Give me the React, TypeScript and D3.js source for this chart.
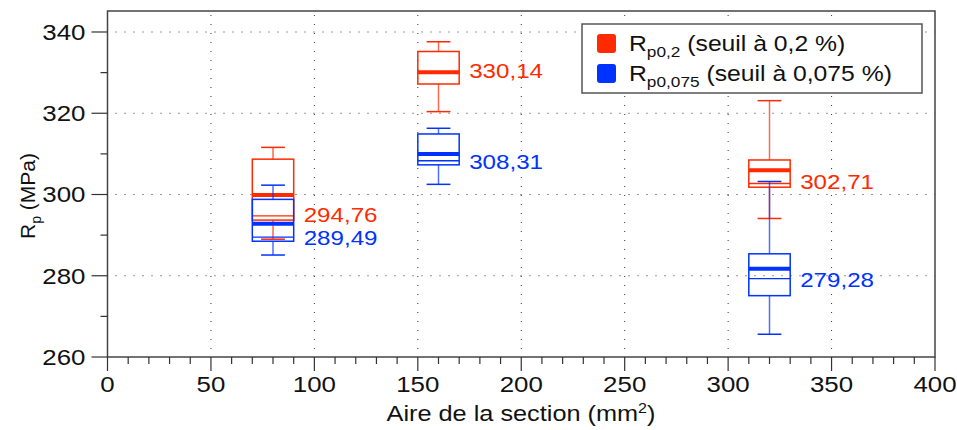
import React from "react";
import * as d3 from "d3";

const W = 957;
const H = 430;

// categories (section area, mm²)
const sections = [80, 160, 320];

// Rp0.2 (red)
const redLow = [289.0, 320.4, 294.1];
const redQ1 = [293.7, 327.2, 301.8];
const redMedian = [299.9, 330.1, 306.0];
const redQ3 = [308.7, 335.2, 308.5];
const redHigh = [311.6, 337.6, 323.1];
const redMean = [294.76, 330.14, 302.71];
const redLabels = ["294,76", "330,14", "302,71"];

// Rp0.075 (blue)
const blueLow = [285.1, 302.5, 265.6];
const blueQ1 = [288.5, 307.3, 275.1];
const blueMedian = [292.8, 310.0, 281.7];
const blueQ3 = [298.8, 314.9, 285.4];
const blueHigh = [302.3, 316.3, 303.2];
const blueMean = [289.49, 308.31, 279.28];
const blueLabels = ["289,49", "308,31", "279,28"];

const xTicks = [0, 50, 100, 150, 200, 250, 300, 350, 400];
const xMinor = d3.range(0, 401, 10);
const yTicks = [260, 280, 300, 320, 340];
const yMinor = [270, 290, 310, 330];

const RED = "#ff2a00";
const BLUE = "#0033ff";
const FONT = "'Liberation Sans', Arial, Helvetica, sans-serif";
const SX = 1.15;

const x = d3.scaleLinear().domain([0, 400]).range([107.5, 935]);
const y = d3.scaleLinear().domain([260, 340]).range([357, 32]);
const yTop = 11;

function T({ x: tx, y: ty, anchor = "start", size = 22.5, fill = "#111", children, baseline = "auto" }: any) {
  return (
    <text
      transform={`translate(${tx},${ty}) scale(${SX},1)`}
      textAnchor={anchor}
      fontSize={size}
      fontFamily={FONT}
      fill={fill}
      dominantBaseline={baseline}
    >
      {children}
    </text>
  );
}

function Box({ cx, low, q1, med, q3, high, mean, color }: any) {
  const bx0 = x(cx - 10);
  const bx1 = x(cx + 10);
  const c0 = x(cx - 5.75);
  const c1 = x(cx + 5.75);
  const xc = x(cx);
  return (
    <g>
      <line x1={xc} x2={xc} y1={y(q3)} y2={y(high)} stroke={color} strokeWidth={1.5} strokeOpacity={0.7} />
      <line x1={xc} x2={xc} y1={y(q1)} y2={y(low)} stroke={color} strokeWidth={1.5} strokeOpacity={0.7} />
      <line x1={c0} x2={c1} y1={y(high)} y2={y(high)} stroke={color} strokeWidth={1.5} />
      <line x1={c0} x2={c1} y1={y(low)} y2={y(low)} stroke={color} strokeWidth={1.5} />
      <rect x={bx0} y={y(q3)} width={bx1 - bx0} height={y(q1) - y(q3)} fill="none" stroke={color} strokeWidth={1.5} />
      <line x1={bx0} x2={bx1} y1={y(mean)} y2={y(mean)} stroke={color} strokeWidth={1.3} />
      <line x1={bx0} x2={bx1} y1={y(med)} y2={y(med)} stroke={color} strokeWidth={4} />
    </g>
  );
}

export default function App() {
  const x0 = x(0);
  const x1 = x(400);
  const yb = y(260);
  return (
    <svg width={W} height={H} style={{ position: "absolute", left: 0, top: 0, background: "#fff" }}>
      {/* grid */}
      <g stroke="#333" strokeWidth={1} strokeDasharray="1 8">
        {yTicks.filter((t) => t > 260).map((t) => (
          <line key={"gy" + t} x1={x0 + 8} x2={x1} y1={y(t)} y2={y(t)} />
        ))}
        {xTicks.filter((t) => t > 0 && t < 400).map((t) => (
          <line key={"gx" + t} x1={x(t)} x2={x(t)} y1={yb - 8} y2={yTop} />
        ))}
      </g>

      {/* boxes */}
      {sections.map((s, i) => (
        <Box key={"r" + i} cx={s} low={redLow[i]} q1={redQ1[i]} med={redMedian[i]} q3={redQ3[i]} high={redHigh[i]} mean={redMean[i]} color={RED} />
      ))}
      {sections.map((s, i) => (
        <Box key={"b" + i} cx={s} low={blueLow[i]} q1={blueQ1[i]} med={blueMedian[i]} q3={blueQ3[i]} high={blueHigh[i]} mean={blueMean[i]} color={BLUE} />
      ))}

      {/* value labels */}
      {sections.map((s, i) => (
        <T key={"rl" + i} x={x(s + 10) + 10} y={y(redMean[i]) - 1} baseline="central" fill={RED} size={21}>
          {redLabels[i]}
        </T>
      ))}
      {sections.map((s, i) => (
        <T key={"bl" + i} x={x(s + 10) + 10} y={y(blueMean[i]) + 1} baseline="central" fill={BLUE} size={21}>
          {blueLabels[i]}
        </T>
      ))}

      {/* frame */}
      <rect x={x0} y={yTop} width={x1 - x0} height={yb - yTop} fill="none" stroke="#444" strokeWidth={1.5} />

      {/* ticks */}
      <g stroke="#333" strokeWidth={1.2}>
        {yTicks.map((t) => (
          <line key={"yt" + t} x1={x0 - 16} x2={x0} y1={y(t)} y2={y(t)} />
        ))}
        {yMinor.map((t) => (
          <line key={"ym" + t} x1={x0 - 7} x2={x0} y1={y(t)} y2={y(t)} />
        ))}
        {xMinor.map((t) => (
          <line key={"xt" + t} x1={x(t)} x2={x(t)} y1={yb} y2={yb + (t % 50 === 0 ? 14 : 7)} />
        ))}
      </g>
      {yTicks.map((t) => (
        <T key={"yl" + t} x={x0 - 22} y={y(t)} anchor="end" baseline="central">
          {t}
        </T>
      ))}
      {xTicks.map((t) => (
        <T key={"xl" + t} x={x(t)} y={392} anchor="middle">
          {t}
        </T>
      ))}

      {/* axis titles */}
      <text transform={`translate(521,421) scale(${SX},1)`} textAnchor="middle" fontSize={22} fontFamily={FONT} fill="#111">
        Aire de la section (mm<tspan dy={-8} fontSize={14}>2</tspan><tspan dy={8}>)</tspan>
      </text>
      <text transform={`translate(35,196) rotate(-90)`} textAnchor="middle" fontSize={21} fontFamily={FONT} fill="#111">
        R<tspan dy={6} fontSize={14}>p</tspan><tspan dy={-6}> (MPa)</tspan>
      </text>

      {/* legend */}
      <rect x={582} y={24} width={340} height={69} fill="#fff" stroke="#555" strokeWidth={1.5} />
      <rect x={597} y={34} width={19} height={19} rx={3} fill={RED} />
      <rect x={597} y={64} width={19} height={19} rx={3} fill={BLUE} />
      <text transform={`translate(629,51) scale(${SX},1)`} fontSize={21.5} fontFamily={FONT} fill="#111">
        R<tspan dy={6} fontSize={15}>p0,2</tspan><tspan dy={-6}> (seuil à 0,2 %)</tspan>
      </text>
      <text transform={`translate(629,81) scale(${SX},1)`} fontSize={21.5} fontFamily={FONT} fill="#111">
        R<tspan dy={6} fontSize={15}>p0,075</tspan><tspan dy={-6}> (seuil à 0,075 %)</tspan>
      </text>
    </svg>
  );
}
